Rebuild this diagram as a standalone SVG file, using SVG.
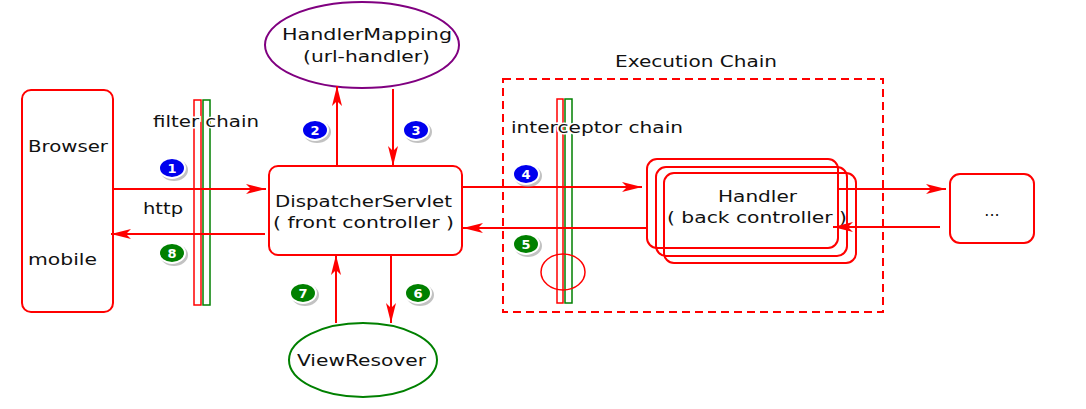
<svg xmlns="http://www.w3.org/2000/svg" width="1086" height="409" viewBox="0 0 1086 409">
<style>
  .t{font-family:"DejaVu Sans","Open Sans",sans-serif;font-size:16px;fill:#111;}
  .box{fill:none;stroke:#ff0000;stroke-width:2;}
  .ln{stroke:#ff0000;stroke-width:2;fill:none;}
  .bn{font-family:"DejaVu Sans",sans-serif;font-size:13px;font-weight:bold;fill:#fff;text-anchor:middle;}
  .sh{fill:#999;opacity:0.6;}
  .blue{fill:#0000ee;stroke:#fff;stroke-width:2;}
  .green{fill:#008000;stroke:#fff;stroke-width:2;}
</style>
<defs>
  <marker id="ah" viewBox="0 0 20 10" refX="20" refY="5" markerWidth="20" markerHeight="10" markerUnits="userSpaceOnUse" orient="auto">
    <path d="M0,0 L20,5 L0,10 L5,5 Z" fill="#ff0000"/>
  </marker>
</defs>
<rect width="1086" height="409" fill="#fff"/>

<g id="execution-chain">
  <rect x="503" y="79" width="380" height="233" fill="none" stroke="#ff0000" stroke-width="2" stroke-dasharray="8,5"/>
  <text class="t" x="615" y="67" textLength="162" lengthAdjust="spacingAndGlyphs">Execution Chain</text>
</g>

<g id="browser">
  <rect class="box" x="22" y="90" width="91" height="222" rx="9"/>
  <text class="t" x="28" y="152" textLength="80" lengthAdjust="spacingAndGlyphs">Browser</text>
  <text class="t" x="28" y="265" textLength="69" lengthAdjust="spacingAndGlyphs">mobile</text>
</g>

<g id="filter-chain">
  <rect x="194" y="100" width="7" height="205" fill="none" stroke="#ff0000" stroke-width="1.5"/>
  <rect x="203" y="100" width="7" height="205" fill="none" stroke="#008000" stroke-width="1.5"/>
</g>

<g id="handler-mapping">
  <ellipse cx="362" cy="45" rx="97" ry="43" fill="#fff" stroke="#800080" stroke-width="2"/>
  <text class="t" x="282" y="40" textLength="170" lengthAdjust="spacingAndGlyphs">HandlerMapping</text>
  <text class="t" x="303" y="62" textLength="127" lengthAdjust="spacingAndGlyphs">(url-handler)</text>
</g>

<g id="dispatcher-servlet">
  <rect class="box" x="269" y="166" width="193" height="89" rx="9" fill="#fff"/>
  <text class="t" x="275" y="207" textLength="177" lengthAdjust="spacingAndGlyphs">DispatcherServlet</text>
  <text class="t" x="273" y="228" textLength="181" lengthAdjust="spacingAndGlyphs">( front controller )</text>
</g>

<g id="view-resolver">
  <ellipse cx="363" cy="360" rx="74" ry="37" fill="#fff" stroke="#008000" stroke-width="2"/>
  <text class="t" x="297" y="366" textLength="129" lengthAdjust="spacingAndGlyphs">ViewResover</text>
</g>

<g id="interceptor-chain">
  <rect x="557" y="99" width="6" height="204" fill="none" stroke="#ff0000" stroke-width="1.5"/>
  <rect x="565" y="99" width="7" height="204" fill="none" stroke="#008000" stroke-width="1.5"/>
  <ellipse cx="563" cy="272" rx="22" ry="18" fill="none" stroke="#ff0000" stroke-width="1.5"/>
</g>

<g id="handler">
  <rect class="box" x="647" y="159" width="191" height="89" rx="10"/>
  <rect class="box" x="656" y="167" width="191" height="89" rx="10"/>
  <rect class="box" x="664" y="173" width="192" height="90" rx="10"/>
  <text class="t" x="718" y="202" textLength="79" lengthAdjust="spacingAndGlyphs">Handler</text>
  <text class="t" x="667" y="223" textLength="180" lengthAdjust="spacingAndGlyphs">( back controller )</text>
</g>

<g id="more">
  <rect class="box" x="950" y="174" width="84" height="69" rx="10"/>
  <text class="t" x="992" y="216" text-anchor="middle" font-size="14">...</text>
</g>

<g id="labels">
  <text class="t" x="153" y="127" textLength="106" lengthAdjust="spacingAndGlyphs" stroke="#fff" stroke-width="3" paint-order="stroke">filter chain</text>
  <text class="t" x="143" y="214" textLength="40" lengthAdjust="spacingAndGlyphs">http</text>
  <text class="t" x="511" y="133" textLength="172" lengthAdjust="spacingAndGlyphs" stroke="#fff" stroke-width="3" paint-order="stroke">interceptor chain</text>
</g>

<g id="connectors">
  <line class="ln" x1="113" y1="189" x2="266" y2="189" marker-end="url(#ah)"/>
  <line class="ln" x1="265" y1="234" x2="111" y2="234" marker-end="url(#ah)"/>
  <line class="ln" x1="337" y1="166" x2="337" y2="86" marker-end="url(#ah)"/>
  <line class="ln" x1="393" y1="89" x2="393" y2="166" marker-end="url(#ah)"/>
  <line class="ln" x1="462" y1="187" x2="642" y2="187" marker-end="url(#ah)"/>
  <line class="ln" x1="647" y1="228" x2="463" y2="228" marker-end="url(#ah)"/>
  <line class="ln" x1="837" y1="189" x2="946" y2="189" marker-end="url(#ah)"/>
  <line class="ln" x1="940" y1="227" x2="833" y2="227" marker-end="url(#ah)"/>
  <line class="ln" x1="336" y1="323" x2="336" y2="255" marker-end="url(#ah)"/>
  <line class="ln" x1="391" y1="255" x2="391" y2="323" marker-end="url(#ah)"/>
</g>

<g id="badges">
  <g id="b1"><ellipse class="sh" cx="174" cy="170" rx="14" ry="11"/><ellipse class="blue" cx="172" cy="168" rx="13" ry="10"/><text class="bn" x="172" y="173">1</text></g>
  <g id="b2"><ellipse class="sh" cx="317" cy="132" rx="14" ry="11"/><ellipse class="blue" cx="315" cy="130" rx="13" ry="10"/><text class="bn" x="315" y="135">2</text></g>
  <g id="b3"><ellipse class="sh" cx="418" cy="132" rx="14" ry="11"/><ellipse class="blue" cx="416" cy="130" rx="13" ry="10"/><text class="bn" x="416" y="135">3</text></g>
  <g id="b4"><ellipse class="sh" cx="528" cy="176" rx="14" ry="11"/><ellipse class="blue" cx="526" cy="174" rx="13" ry="10"/><text class="bn" x="526" y="179">4</text></g>
  <g id="b5"><ellipse class="sh" cx="528" cy="246" rx="14" ry="11"/><ellipse class="green" cx="526" cy="244" rx="13" ry="10"/><text class="bn" x="526" y="249">5</text></g>
  <g id="b6"><ellipse class="sh" cx="420" cy="295" rx="14" ry="11"/><ellipse class="green" cx="418" cy="293" rx="13" ry="10"/><text class="bn" x="418" y="298">6</text></g>
  <g id="b7"><ellipse class="sh" cx="305" cy="295" rx="14" ry="11"/><ellipse class="green" cx="303" cy="293" rx="13" ry="10"/><text class="bn" x="303" y="298">7</text></g>
  <g id="b8"><ellipse class="sh" cx="174" cy="255" rx="14" ry="11"/><ellipse class="green" cx="172" cy="253" rx="13" ry="10"/><text class="bn" x="172" y="258">8</text></g>
</g>
</svg>
